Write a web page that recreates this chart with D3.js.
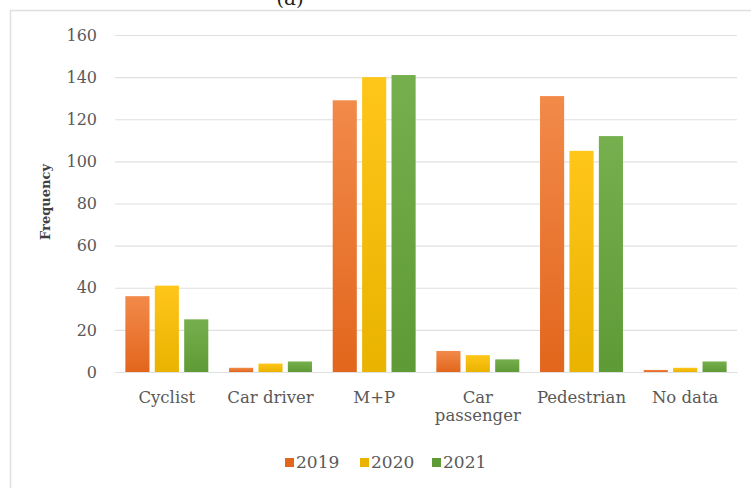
<!DOCTYPE html>
<html>
<head>
<meta charset="utf-8">
<script src="https://cdn.jsdelivr.net/npm/d3@7/dist/d3.min.js"></script>
<style>
  html, body { margin: 0; padding: 0; background: #fff; }
  svg { display: block; }
</style>
</head>
<body>
<svg id="chart" width="751" height="488"></svg>
<script>
const categories = ["Cyclist", "Car driver", "M+P", "Car passenger", "Pedestrian", "No data"];
const years = ["2019", "2020", "2021"];
const values2019 = [36, 2, 129, 10, 131, 1];
const values2020 = [41, 4, 140, 8, 105, 2];
const values2021 = [25, 5, 141, 6, 112, 5];
const yTicks = [0, 20, 40, 60, 80, 100, 120, 140, 160];

const series = [values2019, values2020, values2021];
const colors = { "2019": ["#f28a4a", "#e2661c"], "2020": ["#ffc61a", "#e9b300"], "2021": ["#76b04e", "#5e9a36"] };

const svg = d3.select("#chart");
const font = "'DejaVu Serif', Georgia, serif";

// frame
svg.append("rect").attr("x", 10.5).attr("y", 10.5).attr("width", 760).attr("height", 500)
  .attr("fill", "#fff").attr("stroke", "#e0e0e0").attr("stroke-width", 1.5);

// title, cropped at the top edge as in the reference
svg.append("text").attr("x", 290).attr("y", 5).attr("text-anchor", "middle")
  .attr("font-family", font).attr("font-size", 20).attr("fill", "#222").text("(a)");

const defs = svg.append("defs");
years.forEach(yr => {
  const g = defs.append("linearGradient").attr("id", "g" + yr).attr("x1", 0).attr("y1", 0).attr("x2", 0).attr("y2", 1);
  g.append("stop").attr("offset", "0%").attr("stop-color", colors[yr][0]);
  g.append("stop").attr("offset", "100%").attr("stop-color", colors[yr][1]);
});

const pLeft = 115, pRight = 737, pTop = 35, pBottom = 372;
const y = d3.scaleLinear().domain([0, 160]).range([pBottom, pTop]);
const x0 = d3.scaleBand().domain(categories).range([pLeft, pRight]).paddingInner(0.2).paddingOuter(0.1);
const x1 = d3.scaleBand().domain(years).range([0, x0.bandwidth()]).paddingInner(0.18);

// gridlines
const yAxis = d3.axisLeft(y).tickValues(yTicks).tickSize(-(pRight - pLeft)).tickPadding(18);
const ga = svg.append("g").attr("transform", `translate(${pLeft},0)`).call(yAxis);
ga.select(".domain").remove();
ga.selectAll(".tick line").attr("stroke", "#e0e0e0").attr("stroke-width", 1.2);
ga.selectAll(".tick text").attr("font-family", font).attr("font-size", 16).attr("fill", "#595959");

// bars
const groups = svg.append("g").selectAll("g").data(categories).join("g")
  .attr("transform", d => `translate(${x0(d)},0)`);
groups.selectAll("rect").data((d, i) => years.map((yr, k) => ({ yr, v: series[k][i] }))).join("rect")
  .attr("x", d => x1(d.yr))
  .attr("width", x1.bandwidth())
  .attr("y", d => y(d.v))
  .attr("height", d => pBottom - y(d.v))
  .attr("fill", d => `url(#g${d.yr})`);

// x axis labels
const xAxis = d3.axisBottom(x0).tickSize(0).tickPadding(0);
const gx = svg.append("g").attr("transform", `translate(0,${pBottom})`).call(xAxis);
gx.select(".domain").attr("stroke", "#e0e0e0").attr("stroke-width", 1.2);
gx.selectAll(".tick text").each(function(d) {
  const t = d3.select(this);
  t.text(null).attr("font-family", font).attr("font-size", 16.5).attr("fill", "#595959").attr("y", 0).attr("dy", null);
  const lines = d === "Car passenger" ? ["Car", "passenger"] : [d];
  lines.forEach((ln, i) => t.append("tspan").attr("x", 0).attr("y", 31 + i * 18).text(ln));
});

// y title
svg.append("text").attr("transform", `translate(50,202) rotate(-90)`).attr("text-anchor", "middle")
  .attr("font-family", font).attr("font-size", 13).attr("font-weight", "bold").attr("fill", "#404040")
  .text("Frequency");

// legend
const legendX = [285, 360, 432];
const lg = svg.append("g").selectAll("g").data(years).join("g")
  .attr("transform", (d, i) => `translate(${legendX[i]},458)`);
lg.append("rect").attr("width", 9).attr("height", 9).attr("fill", d => colors[d][1]);
lg.append("text").attr("x", 11).attr("y", 10).attr("font-family", font).attr("font-size", 17)
  .attr("fill", "#595959").text(d => d);
</script>
</body>
</html>
